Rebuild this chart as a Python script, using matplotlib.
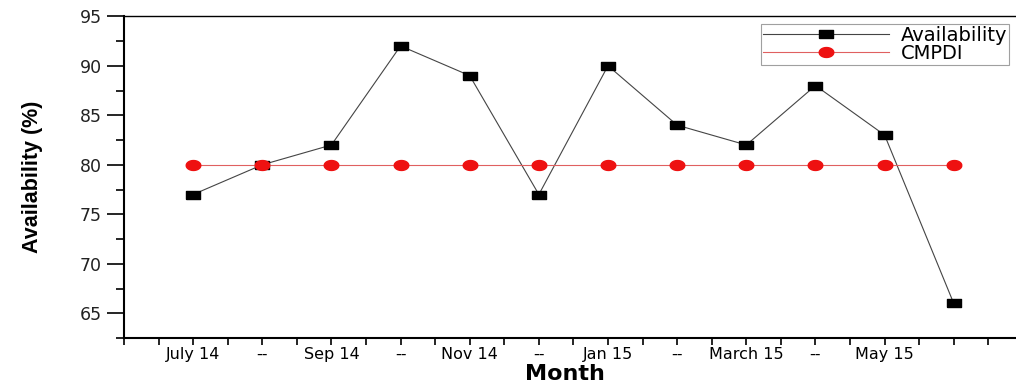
import matplotlib
matplotlib.use("Agg")
import matplotlib.pyplot as plt
from matplotlib.ticker import MultipleLocator, FixedLocator
import numpy as np

months = ["July 14", "--", "Sep 14", "--", "Nov 14", "--", "Jan 15", "--",
          "March 15", "--", "May 15", ""]
availability = [77, 80, 82, 92, 89, 77, 90, 84, 82, 88, 83, 66]
cmpdi = [80, 80, 80, 80, 80, 80, 80, 80, 80, 80, 80, 80]
yticks = [65, 70, 75, 80, 85, 90, 95]

x = np.arange(1, len(months) + 1)

rect = [(-1, -0.55), (1, -0.55), (1, 0.55), (-1, 0.55), (-1, -0.55)]
t = np.linspace(0, 2 * np.pi, 40)
ell = list(zip(np.cos(t), 0.68 * np.sin(t)))

fig = plt.figure(figsize=(10.16, 3.86), dpi=100)
ax = fig.add_axes([0.122, 0.124, 0.878, 0.834])

ax.plot(x, availability, color="#444444", lw=0.8, marker=rect, ms=10.5,
        mfc="black", mec="black", label="Availability", zorder=2)
ax.plot(x, cmpdi, color="#e06060", lw=0.8, marker=ell, ms=10.5,
        mfc="#ee1111", mec="#ee1111", label="CMPDI", zorder=3)

ax.set_xlim(0, 12.9)
ax.set_ylim(62.5, 95)
ax.xaxis.set_major_locator(FixedLocator(x))
ax.set_xticklabels(months, fontsize=11.5, family="DejaVu Sans")
ax.xaxis.set_minor_locator(MultipleLocator(0.5))
ax.set_yticks(yticks)
ax.set_yticklabels([str(v) for v in yticks], fontsize=12.5, family="DejaVu Sans",
                   color="#222222")
ax.yaxis.set_minor_locator(MultipleLocator(2.5))

ax.tick_params(axis="both", which="both", direction="out", width=1.2, color="black")
ax.tick_params(axis="y", which="major", length=12, pad=4)
ax.tick_params(axis="y", which="minor", length=6)
ax.tick_params(axis="x", which="major", length=5, pad=1.5)
ax.tick_params(axis="x", which="minor", length=5)

for s in ["left", "bottom"]:
    ax.spines[s].set_linewidth(1.5)
ax.spines["top"].set_linewidth(1.0)
ax.spines["right"].set_visible(False)

ax.set_ylabel("Availability (%)", fontsize=15.5, fontweight="bold",
              family="Liberation Sans")
ax.yaxis.set_label_coords(-0.091, 0.5)
ax.set_xlabel("Month", fontsize=16, fontweight="bold", family="DejaVu Sans")
ax.xaxis.set_label_coords(0.494, -0.11)
ax.xaxis.label.set_va("center")

leg = ax.legend(loc="upper right", bbox_to_anchor=(0.9925, 0.977),
                fontsize=14, frameon=True, fancybox=False, handlelength=6.5,
                borderpad=0.1, labelspacing=-0.05, handletextpad=0.6,
                borderaxespad=0)
leg.get_frame().set_edgecolor("#888888")
leg.get_frame().set_linewidth(0.8)
for txt in leg.get_texts():
    txt.set_family("DejaVu Sans")

fig.savefig("out.png", dpi=100)
